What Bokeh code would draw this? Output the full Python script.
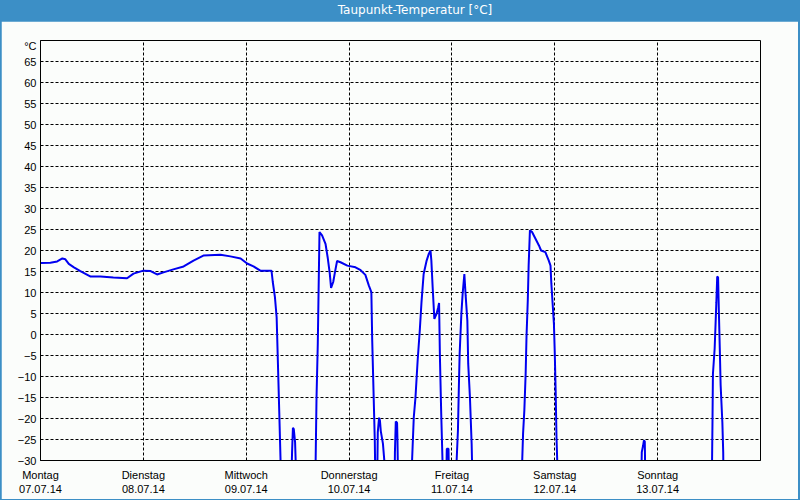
from bokeh.plotting import figure
from bokeh.models import Div, FixedTicker, LinearAxis, Range1d, Grid
from bokeh.layouts import column
from bokeh.embed import file_html
from bokeh.resources import INLINE

# ---- data (hours since Monday 07.07.14 00:00, dew point in °C; values below -30 are off-scale) ----
hours = [0.0, 2.3, 3.9, 5.1, 5.8, 6.6, 7.8, 9.3, 11.7, 14.0,
         17.0, 20.2, 21.7, 24.0, 25.7, 27.2, 28.7, 31.0, 33.4, 35.7,
         38.0, 42.0, 44.3, 46.7, 48.2, 49.7, 51.3, 53.9, 54.2, 54.7,
         55.1, 55.4, 55.7, 56.0, 56.2,
         58.4, 58.7, 58.9, 59.1, 59.4, 59.6, 59.8,
         63.9, 64.2, 64.4, 64.7, 64.9, 65.1, 65.7, 66.5, 67.0, 67.5,
         67.8, 68.3, 68.7, 69.2, 70.0, 71.6, 73.5, 74.7, 75.8, 76.6,
         77.2, 77.4, 77.7, 78.0, 78.2,
         78.5, 78.7, 79.0, 79.2, 79.4, 79.9, 80.3, 80.5,
         82.6, 82.7, 82.9, 83.2, 83.3, 83.5,
         86.6, 86.7, 87.1, 87.5, 88.0, 88.5, 88.9, 89.4, 90.1, 90.6,
         91.0, 91.2, 91.5, 91.9, 92.4, 92.8, 93.0, 93.2, 93.5, 93.8, 94.1,
         94.6, 94.8, 95.2, 95.4,
         96.9, 97.1, 97.4, 97.6, 97.8, 98.2, 98.5, 98.9, 99.2, 99.6,
         99.8, 100.2, 100.6, 100.9,
         112.3, 112.4, 112.6, 112.9, 113.2, 113.4, 113.7, 113.9, 114.2, 114.7,
         115.5, 116.3, 116.8, 117.8, 118.6, 119.0, 119.2, 119.5, 119.8, 120.0,
         120.2, 120.4, 120.6, 120.8,
         140.1, 140.3, 140.6, 140.8, 141.0, 141.2,
         156.6, 156.7, 156.8, 156.9, 157.3, 157.5, 157.7, 157.9, 158.1, 158.3,
         158.5, 158.7, 159.1, 159.3, 159.4, 168.0]

dewpoint = [17.0, 17.1, 17.4, 18.1, 17.9, 16.8, 16.0, 15.1, 13.8, 13.8,
            13.6, 13.4, 14.5, 15.2, 15.1, 14.3, 14.8, 15.5, 16.2, 17.6,
            18.8, 19.0, 18.6, 18.1, 16.9, 16.2, 15.2, 15.2, 12.5, 8.9,
            4.1, -6.9, -18.1, -29.5, -40,
            -40, -28, -22.2, -22.5, -25.6, -32, -40,
            -40, -30, -15.3, -2.2, 11.3, 24.4, 23.6, 21.6, 18.4, 14.5,
            11.1, 12.5, 14.8, 17.5, 17.2, 16.4, 16.0, 15.3, 14.2, 11.7,
            10.1, -1.4, -13.3, -25.2, -40,
            -40, -23.3, -19.8, -20.5, -23, -26, -31, -40,
            -40, -28, -20.7, -21, -25.5, -40,
            -40, -30, -19.7, -14.9, -6.2, 1.0, 7.7, 14.4, 17.6, 19.2,
            20.0, 17.6, 11.3, 3.7, 4.9, 6.5, 7.5, -5.4, -18.8, -30, -40,
            -40, -27.2, -27.2, -40,
            -40, -30, -22.9, -13.3, -4.6, 4.9, 9.7, 14.4, 9.3, 3.3,
            -7.0, -14.9, -26, -40,
            -40, -30, -23.6, -18, -9.4, -0.6, 8.1, 16.4, 24.8, 24.4,
            22.8, 21.2, 20.0, 19.6, 17.6, 16.4, 12.1, 7.3, 2.5, -4.6,
            -13.3, -24.4, -31, -40,
            -40, -28, -26.5, -25.2, -25.5, -40,
            -40, -30, -20.5, -9.4, -3.4, 2.1, 7.7, 13.8, 13.6, 4.9,
            -3.4, -12.1, -20.9, -28, -40, -40]

day_ticks = [0, 24, 48, 72, 96, 120, 144]
day_names = ["Montag", "Dienstag", "Mittwoch", "Donnerstag", "Freitag", "Samstag", "Sonntag"]
day_dates = ["07.07.14", "08.07.14", "09.07.14", "10.07.14", "11.07.14", "12.07.14", "13.07.14"]
y_ticks = list(range(-30, 70, 5))
unit_label = "°C"
title_text = "Taupunkt-Temperatur [°C]"

FONT = "Liberation Sans"
BG = "#fbfdfb"
BLUE_BAR = "#3c8fc6"

p = figure(width=797, height=478, x_range=Range1d(0, 168), y_range=Range1d(-30, 70),
           output_backend="svg", toolbar_location=None, x_axis_type=None,
           min_border_left=39, min_border_right=38, min_border_top=19, min_border_bottom=39,
           background_fill_color=BG, border_fill_color=BG)
p.margin = (0, 2, 1, 1)
p.outline_line_color = "black"
p.outline_line_width = 1

# y axis (unit label sits just below the top edge)
yax = p.yaxis[0]
yax.ticker = FixedTicker(ticks=y_ticks + [68.7])
yax.major_label_overrides = {68.7: unit_label}
yax.major_tick_line_color = None
yax.minor_tick_line_color = None
yax.major_tick_out = 0
yax.major_label_standoff = 4
yax.axis_line_color = "black"
yax.major_label_text_font = FONT
yax.major_label_text_font_size = "11px"
yax.major_label_text_color = "black"

p.ygrid.ticker = FixedTicker(ticks=y_ticks)
p.ygrid.grid_line_color = "black"
p.ygrid.grid_line_dash = "3 2"
p.ygrid.grid_line_width = 1

xgrid = Grid(dimension=0, ticker=FixedTicker(ticks=day_ticks), grid_line_color="black",
             grid_line_dash="3 2", grid_line_width=1)
p.add_layout(xgrid)

ax1 = LinearAxis(ticker=FixedTicker(ticks=day_ticks),
                 major_label_overrides={t: n for t, n in zip(day_ticks, day_names)})
ax2 = LinearAxis(ticker=FixedTicker(ticks=day_ticks),
                 major_label_overrides={t: d for t, d in zip(day_ticks, day_dates)})
for ax, so in ((ax1, 8), (ax2, 1)):
    ax.major_tick_line_color = None
    ax.minor_tick_line_color = None
    ax.major_tick_out = 0
    ax.major_tick_in = 0
    ax.major_label_standoff = so
    ax.major_label_text_font = FONT
    ax.major_label_text_font_size = "11px"
    ax.major_label_text_color = "black"
    ax.major_label_orientation = "horizontal"
ax1.axis_line_color = "black"
ax2.axis_line_color = None
p.add_layout(ax1, "below")
p.add_layout(ax2, "below")

p.line(hours, dewpoint, line_color="#0000f0", line_width=2)

title = Div(text=title_text, width=800, height=21,
            styles={"background-color": BLUE_BAR, "color": "white",
                    "font-family": "DejaVu Sans", "font-size": "12px",
                    "text-align": "center", "line-height": "21px",
                    "padding-left": "30px", "box-sizing": "border-box"})
title.margin = (0, 0, 0, 0)

layout = column(title, p, spacing=0, styles={"background-color": BLUE_BAR})

open("out.html", "w").write(file_html(layout, INLINE))
